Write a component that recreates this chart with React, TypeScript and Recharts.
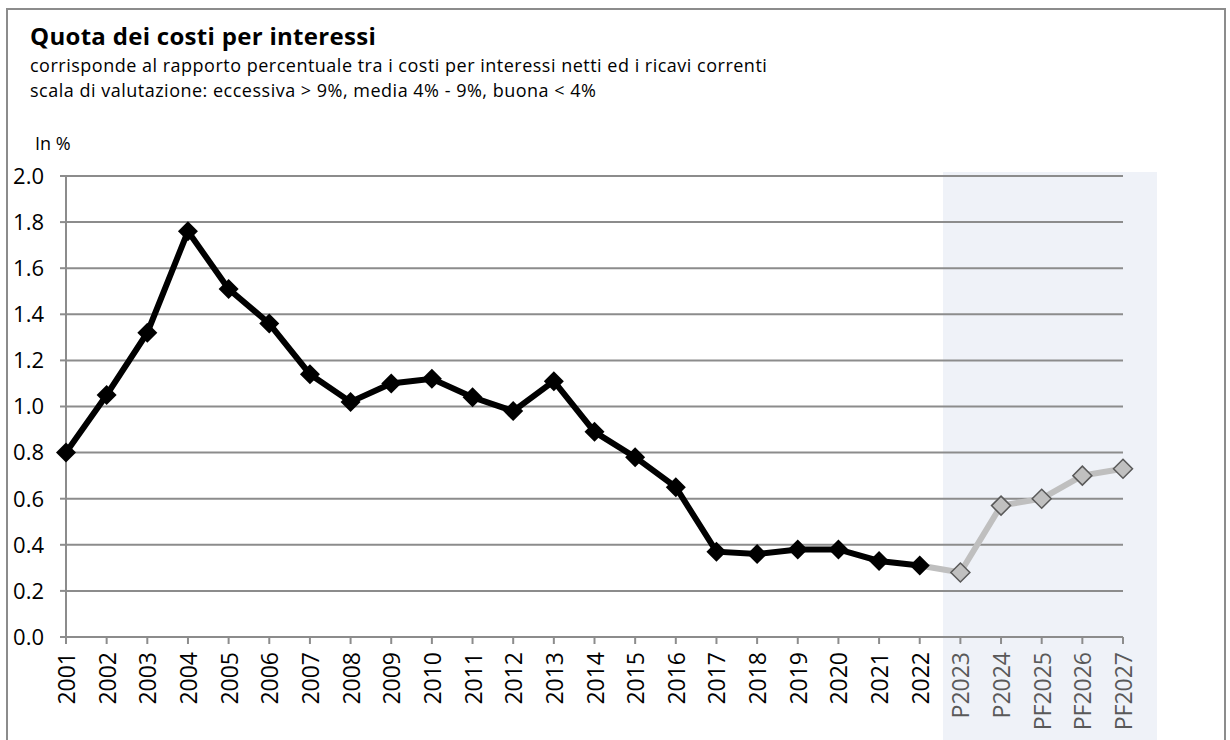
import { LineChart, Line, XAxis, YAxis, CartesianGrid } from "recharts";

const categories = [
  "2001", "2002", "2003", "2004", "2005", "2006", "2007", "2008", "2009", "2010",
  "2011", "2012", "2013", "2014", "2015", "2016", "2017", "2018", "2019", "2020",
  "2021", "2022", "P2023", "P2024", "PF2025", "PF2026", "PF2027",
];

const actualValues = [
  0.8, 1.05, 1.32, 1.76, 1.51, 1.36, 1.14, 1.02, 1.1, 1.12,
  1.04, 0.98, 1.11, 0.89, 0.78, 0.65, 0.37, 0.36, 0.38, 0.38,
  0.33, 0.31,
];

const forecastValues = [0.28, 0.57, 0.6, 0.7, 0.73];

const yTicks = [0, 0.2, 0.4, 0.6, 0.8, 1.0, 1.2, 1.4, 1.6, 1.8, 2.0];

const FONT = "'Open Sans', Lato, sans-serif";

const data = categories.map((c, i) => {
  const isActual = i < actualValues.length;
  const fIdx = i - actualValues.length;
  return {
    label: c,
    actual: isActual ? actualValues[i] : null,
    forecast:
      i === actualValues.length - 1
        ? actualValues[i]
        : fIdx >= 0
        ? forecastValues[fIdx]
        : null,
    isForecast: !isActual,
  };
});

const Diamond = ({ cx, cy, fill, stroke, r, strokeWidth }: any) => {
  if (cx == null || cy == null) return null;
  return (
    <polygon
      points={`${cx},${cy - r} ${cx + r},${cy} ${cx},${cy + r} ${cx - r},${cy}`}
      fill={fill}
      stroke={stroke}
      strokeWidth={strokeWidth}
    />
  );
};

const XTick = ({ x, y, payload, index }: any) => {
  const isForecast = index >= actualValues.length;
  return (
    <text
      transform={`translate(${x},${y + 6}) rotate(-90)`}
      textAnchor="end"
      dominantBaseline="central"
      fontSize={23}
      fontFamily={FONT}
      fill={isForecast ? "#595959" : "#000"}
    >
      {payload.value}
    </text>
  );
};

export default function App() {
  return (
    <div
      style={{
        position: "absolute",
        left: 0,
        top: 0,
        width: 1230,
        height: 740,
        background: "#fff",
        overflow: "hidden",
        fontFamily: FONT,
      }}
    >
      {/* frame */}
      <div
        style={{
          position: "absolute",
          left: 6,
          top: 8,
          width: 1216,
          height: 760,
          border: "2px solid #8c8c8c",
        }}
      />
      {/* forecast shading */}
      <div
        style={{
          position: "absolute",
          left: 943,
          top: 172,
          width: 214,
          height: 600,
          background: "#eff2f8",
        }}
      />
      <div
        style={{
          position: "absolute",
          left: 30,
          top: 19,
          fontSize: 24,
          letterSpacing: 0.3,
          fontWeight: 700,
          color: "#000",
          whiteSpace: "nowrap",
        }}
      >
        Quota dei costi per interessi
      </div>
      <div
        style={{
          position: "absolute",
          left: 30,
          top: 53,
          fontSize: 18,
          letterSpacing: 0.5,
          lineHeight: "25px",
          color: "#000",
          whiteSpace: "nowrap",
        }}
      >
        corrisponde al rapporto percentuale tra i costi per interessi netti ed i ricavi correnti
        <br />
        scala di valutazione: eccessiva &gt; 9%, media 4% - 9%, buona &lt; 4%
      </div>
      <div style={{ position: "absolute", left: 35, top: 131, fontSize: 18, color: "#000" }}>In %</div>
      <div style={{ position: "absolute", left: 0, top: 0 }}>
        <LineChart
          width={1230}
          height={740}
          data={data}
          margin={{ top: 176, right: 107, bottom: 0, left: 0 }}
        >
          <CartesianGrid vertical={false} stroke="#8c8c8c" strokeWidth={2} />
          <XAxis
            dataKey="label"
            interval={0}
            tick={<XTick />}
            tickSize={7}
            tickMargin={2}
            height={103}
            stroke="#8c8c8c"
            strokeWidth={2}
            tickLine={{ stroke: "#8c8c8c", strokeWidth: 2 }}
          />
          <YAxis
            domain={[0, 2]}
            ticks={yTicks}
            interval={0}
            width={66}
            tickSize={6}
            tickMargin={16}
            tickFormatter={(v: number) => v.toFixed(1)}
            tick={{ fill: "#000", fontSize: 22, fontFamily: FONT }}
            stroke="#8c8c8c"
            strokeWidth={2}
            tickLine={{ stroke: "#8c8c8c", strokeWidth: 2 }}
          />
          <Line
            dataKey="forecast"
            stroke="#bfbfbf"
            strokeWidth={6}
            isAnimationActive={false}
            connectNulls={false}
            dot={(p: any) =>
              p.payload.isForecast ? (
                <Diamond key={p.index} cx={p.cx} cy={p.cy} r={9.5} fill="#c0c0c0" stroke="#595959" strokeWidth={1.5} />
              ) : (
                <g key={p.index} />
              )
            }
            activeDot={false}
          />
          <Line
            dataKey="actual"
            stroke="#000"
            strokeWidth={6}
            isAnimationActive={false}
            connectNulls={false}
            dot={(p: any) => <Diamond key={p.index} cx={p.cx} cy={p.cy} r={10} fill="#000" stroke="#000" strokeWidth={0} />}
            activeDot={false}
          />
        </LineChart>
      </div>
    </div>
  );
}
